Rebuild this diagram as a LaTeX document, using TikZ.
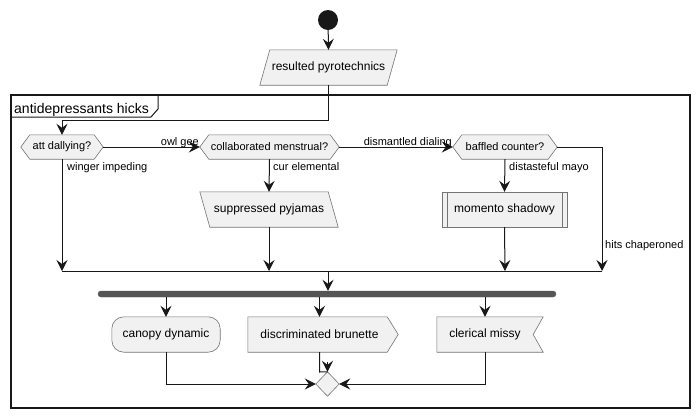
\documentclass[tikz,border=0pt]{standalone}
\usepackage{fontspec}
\setmainfont{Liberation Sans}
\usetikzlibrary{arrows.meta,calc}
\pgfdeclarelayer{background}
\pgfdeclarelayer{canvas}
\pgfsetlayers{canvas,background,main}
\definecolor{shpfill}{HTML}{F1F1F1}
\definecolor{shpline}{HTML}{181818}
\definecolor{barcol}{HTML}{555555}
\tikzset{
  txt/.style={draw=none, inner sep=0pt, font=\fontsize{12}{14}\selectfont},
  hextxt/.style={draw=none, inner sep=0pt, font=\fontsize{11}{13}\selectfont},
  shp/.style={draw=shpline!60, fill=shpfill, line width=0.6pt},
  lbl/.style={inner sep=0pt, font=\fontsize{11}{13}\selectfont},
  conn/.style={draw=shpline, line width=1pt},
  arr/.style={conn, -{Stealth[length=11pt,width=11pt,inset=4pt]}},
}
\begin{document}
\begin{tikzpicture}[x=1pt,y=-1pt]
\useasboundingbox (0,0) rectangle (699,418);
\begin{pgfonlayer}{canvas}
\fill[white] (0,0) rectangle (699,418);
\end{pgfonlayer}

% group frame
\draw[line width=1.5pt, draw=shpline] (11,95) rectangle (690,408);
\draw[line width=1pt, draw=shpline] (11,117) -- (151,117) -- (158,109) -- (158,95);
\node[anchor=base west, inner sep=0pt, font=\fontsize{14}{16}\selectfont] (grp) at (14,113) {antidepressants hicks};

% start
\node[circle, fill=shpline, minimum size=20pt, inner sep=0pt] (start) at (328,20) {};

% resulted pyrotechnics
\node[txt, minimum width=127pt, minimum height=35pt] (rp) at (328.5,67.5) {resulted pyrotechnics};
% hexagons
\node[hextxt, minimum width=82pt, minimum height=24pt] (att) at (62,147) {att dallying?};
\node[hextxt, minimum width=139pt, minimum height=24pt] (cm) at (269.5,147) {collaborated menstrual?};
\node[hextxt, minimum width=104pt, minimum height=24pt] (bc) at (505,147) {baffled counter?};
% activities
\node[txt, minimum width=128pt, minimum height=35pt] (sp) at (269,209.5) {suppressed pyjamas};
\node[txt, minimum width=125pt, minimum height=35pt] (mo) at (504.5,209.5) {momento shadowy};
\node[draw=barcol, fill=barcol, rounded corners=3pt, minimum width=458pt, minimum height=6pt, inner sep=0pt] (bar) at (327,294) {};
\node[txt, minimum width=108pt, minimum height=35pt] (cd) at (166,334.5) {canopy dynamic};
\node[txt, minimum width=143pt, minimum height=35pt] (db) at (319.5,334.5) {discriminated brunette};
\node[txt, minimum width=96pt, minimum height=35pt] (cl) at (485,334.5) {clerical missy};
\node[minimum width=23pt, minimum height=24pt, inner sep=0pt] (mg) at (327.5,384) {};

\begin{pgfonlayer}{background}
  \draw[shp] ($(rp.north west)+(5,0)$) -- ($(rp.north east)+(5,0)$) -- ($(rp.south east)+(-5,0)$) -- ($(rp.south west)+(-5,0)$) -- cycle;
  \draw[shp] (att.west) -- ($(att.north west)+(9,0)$) -- ($(att.north east)+(-9,0)$) -- (att.east) -- ($(att.south east)+(-9,0)$) -- ($(att.south west)+(9,0)$) -- cycle;
  \draw[shp] (cm.west) -- ($(cm.north west)+(9,0)$) -- ($(cm.north east)+(-9,0)$) -- (cm.east) -- ($(cm.south east)+(-9,0)$) -- ($(cm.south west)+(9,0)$) -- cycle;
  \draw[shp] (bc.west) -- ($(bc.north west)+(9,0)$) -- ($(bc.north east)+(-9,0)$) -- (bc.east) -- ($(bc.south east)+(-9,0)$) -- ($(bc.south west)+(9,0)$) -- cycle;
  \draw[shp] ($(sp.north west)+(-5,0)$) -- ($(sp.north east)+(-5,0)$) -- ($(sp.south east)+(5,0)$) -- ($(sp.south west)+(5,0)$) -- cycle;
  \draw[shp] (mo.north west) rectangle (mo.south east);
  \draw[shp] ($(mo.north west)+(5,0)$) -- ($(mo.south west)+(5,0)$);
  \draw[shp] ($(mo.north east)+(-5,0)$) -- ($(mo.south east)+(-5,0)$);
  \draw[shp, rounded corners=12pt] (cd.north west) rectangle (cd.south east);
  \draw[shp] (db.north west) -- ($(db.north east)+(-4,0)$) -- ($(db.east)+(7,0)$) -- ($(db.south east)+(-4,0)$) -- (db.south west) -- cycle;
  \draw[shp] (cl.north west) -- ($(cl.north east)+(10,0)$) -- (cl.east) -- ($(cl.south east)+(10,0)$) -- (cl.south west) -- cycle;
  \draw[shp] (mg.north) -- (mg.east) -- (mg.south) -- (mg.west) -- cycle;
\end{pgfonlayer}

% connectors
\draw[arr] (start) -- (rp.north);
\coordinate (j1) at (328.5,120);
\draw[arr] (rp.south) -- (j1) -| (att.north);
\draw[arr] (att.east) -- (cm.west);
\node[lbl, anchor=base east] (lowl) at (199,145.5) {owl gee};
\draw[arr] (cm.east) -- (bc.west);
\node[lbl, anchor=base east] (ldis) at (452,145.5) {dismantled dialing};

\coordinate (m1) at (62,271);
\coordinate (m2) at (269,271);
\coordinate (m3) at (505,271);
\coordinate (m4) at (602,271);
\coordinate (mc) at (328,271);
\draw[arr] (att.south) -- (m1);
\node[lbl, anchor=base west] (lwin) at (67,170) {winger impeding};
\draw[arr] (cm.south) -- (sp.north);
\node[lbl, anchor=base west] (lcur) at (273,170) {cur elemental};
\draw[arr] (bc.south) -- (mo.north);
\node[lbl, anchor=base west] (ldst) at (509,170) {distasteful mayo};
\draw[arr] (bc.east) -| (m4);
\node[lbl, anchor=base west] (lhit) at (605,248) {hits chaperoned};
\draw[arr] (sp.south) -- (m2);
\draw[arr] (mo.south) -- (m3);
\draw[conn] (m1) -- (m4);
\draw[arr] (mc) -- (mc |- bar.north);

\draw[arr] (cd.north |- bar.south) -- (cd.north);
\draw[arr] (db.north |- bar.south) -- (db.north);
\draw[arr] (cl.north |- bar.south) -- (cl.north);

\draw[arr] (cd.south) |- (mg.west);
\draw[arr] (cl.south) |- (mg.east);
\coordinate (dj) at (319.5,372);
\draw[conn] (db.south) -- (dj) -- (mg.north);
\draw[arr] ($(mg.north)+(0,-10)$) -- (mg.north);
\end{tikzpicture}
\end{document}
